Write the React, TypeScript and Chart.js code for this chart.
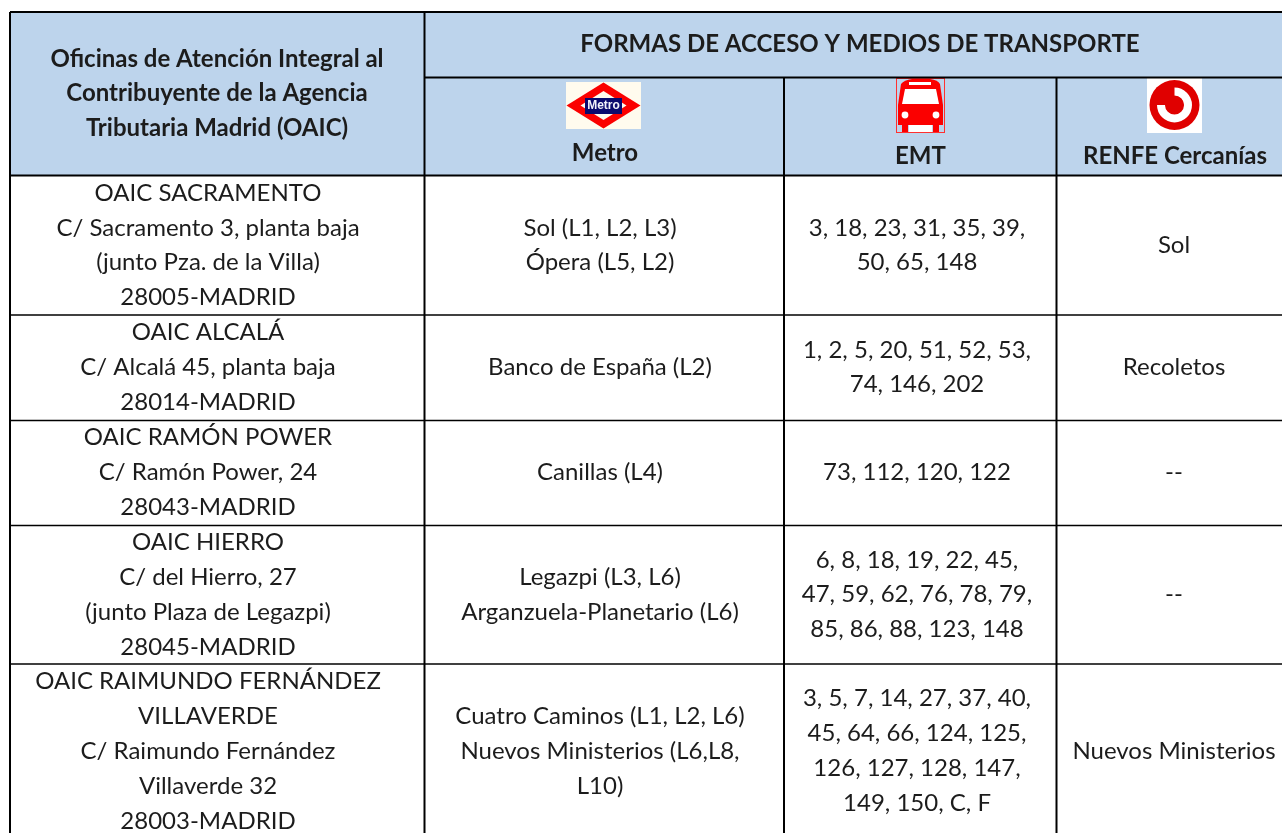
import React, { useEffect, useRef } from "react";
import { Chart, registerables } from "chart.js";

Chart.register(...registerables);

// ---- table content ----
const officeHeader = ["Oficinas de Atención Integral al", "Contribuyente de la Agencia", "Tributaria Madrid (OAIC)"];
const groupHeader = "FORMAS DE ACCESO Y MEDIOS DE TRANSPORTE";
const columnHeaders = ["Metro", "EMT", "RENFE Cercanías"];

const offices = [
  ["OAIC SACRAMENTO", "C/ Sacramento 3, planta baja", "(junto Pza. de la Villa)", "28005-MADRID"],
  ["OAIC ALCALÁ", "C/ Alcalá 45, planta baja", "28014-MADRID"],
  ["OAIC RAMÓN POWER", "C/ Ramón Power, 24", "28043-MADRID"],
  ["OAIC HIERRO", "C/ del Hierro, 27", "(junto Plaza de Legazpi)", "28045-MADRID"],
  ["OAIC RAIMUNDO FERNÁNDEZ", "VILLAVERDE", "C/ Raimundo Fernández", "Villaverde 32", "28003-MADRID"],
];
const metro = [
  ["Sol (L1, L2, L3)", "Ópera (L5, L2)"],
  ["Banco de España (L2)"],
  ["Canillas (L4)"],
  ["Legazpi (L3, L6)", "Arganzuela-Planetario (L6)"],
  ["Cuatro Caminos (L1, L2, L6)", "Nuevos Ministerios (L6,L8,", "L10)"],
];
const emt = [
  ["3, 18, 23, 31, 35, 39,", "50, 65, 148"],
  ["1, 2, 5, 20, 51, 52, 53,", "74, 146, 202"],
  ["73, 112, 120, 122"],
  ["6, 8, 18, 19, 22, 45,", "47, 59, 62, 76, 78, 79,", "85, 86, 88, 123, 148"],
  ["3, 5, 7, 14, 27, 37, 40,", "45, 64, 66, 124, 125,", "126, 127, 128, 147,", "149, 150, C, F"],
];
const renfe = [["Sol"], ["Recoletos"], ["--"], ["--"], ["Nuevos Ministerios"]];

// ---- table geometry, in scale units ----
const W = 1282;
const H = 833;
const left = 10;
const top = 12;
const colEdges = [424.5, 784, 1056.5];
const headY = [77.5, 175.5];
const rowEdges = [175.5, 315, 420.5, 525.5, 664, 833];
const colCenters = [208, 600, 917, 1174];
const LH = 34.9;
const BLUE = "#bdd4ec";
const INK = "#1c1c1c";
const FONT = "Lato, 'Open Sans', sans-serif";

type Cell = { x: number; y: number; lines: string[] };
const rowCenters = rowEdges.slice(0, -1).map((e, i) => (e + rowEdges[i + 1]) / 2);
const rowOffsets = [0, -0.5, -1, 0, 2.5];
const cellsOf = (col: string[][], c: number): Cell[] =>
  col.map((lines, r) => ({ x: colCenters[c], y: rowCenters[r] + rowOffsets[r], lines }));

const tablePlugin = {
  id: "tablePlugin",
  beforeDatasetsDraw(chart: any) {
    const { ctx, scales } = chart;
    const px = (v: number) => scales.x.getPixelForValue(v);
    const py = (v: number) => scales.y.getPixelForValue(v);
    ctx.save();
    // header fills
    ctx.fillStyle = BLUE;
    ctx.fillRect(px(left), py(top), px(W) - px(left), py(headY[1]) - py(top));
    // logos
    drawMetroLogo(ctx, px, py);
    drawBusLogo(ctx, px, py);
    drawRenfeLogo(ctx, px, py);
    // rules
    ctx.strokeStyle = "#000";
    const line = (x1: number, y1: number, x2: number, y2: number, w: number) => {
      ctx.lineWidth = w;
      ctx.beginPath();
      ctx.moveTo(px(x1), py(y1));
      ctx.lineTo(px(x2), py(y2));
      ctx.stroke();
    };
    line(left, top, W, top, 2);
    line(left, top, left, H, 2);
    line(colEdges[0], top, colEdges[0], H, 2);
    line(colEdges[1], headY[0], colEdges[1], H, 2);
    line(colEdges[2], headY[0], colEdges[2], H, 2);
    line(colEdges[0], headY[0], W, headY[0], 2);
    line(left, headY[1], W, headY[1], 2);
    rowEdges.slice(1, -1).forEach((y) => line(left, y, W, y, 1.5));
    ctx.restore();
  },
  afterDatasetsDraw(chart: any) {
    const { ctx } = chart;
    ctx.save();
    ctx.textAlign = "center";
    ctx.textBaseline = "middle";
    chart.data.datasets.forEach((ds: any, i: number) => {
      const meta = chart.getDatasetMeta(i);
      ctx.font = ds.textFont;
      ctx.fillStyle = INK;
      meta.data.forEach((pt: any, j: number) => {
        const raw = ds.data[j] as Cell;
        const n = raw.lines.length;
        raw.lines.forEach((t, k) => {
          ctx.fillText(t, pt.x, pt.y + (k - (n - 1) / 2) * ds.lineStep);
        });
      });
    });
    ctx.restore();
  },
};

function drawMetroLogo(ctx: CanvasRenderingContext2D, px: (v: number) => number, py: (v: number) => number) {
  const cx = 603.5;
  const cy = 105.5;
  ctx.fillStyle = "#fffbee";
  ctx.fillRect(px(566), py(82), 75, 47);
  const diamond = (hw: number, hh: number, color: string) => {
    ctx.fillStyle = color;
    ctx.beginPath();
    ctx.moveTo(px(cx - hw), py(cy));
    ctx.lineTo(px(cx), py(cy - hh));
    ctx.lineTo(px(cx + hw), py(cy));
    ctx.lineTo(px(cx), py(cy + hh));
    ctx.closePath();
    ctx.fill();
  };
  diamond(37, 23, "#fb0000");
  diamond(23, 14.5, "#fffbee");
  ctx.fillStyle = "#0a0a6e";
  ctx.fillRect(px(585), py(98), 37, 16);
  ctx.fillStyle = "#f3f3fb";
  ctx.font = "bold 12px 'Liberation Sans', sans-serif";
  ctx.textAlign = "center";
  ctx.textBaseline = "middle";
  ctx.fillText("Metro", px(cx), py(106));
}

function drawBusLogo(ctx: CanvasRenderingContext2D, px: (v: number) => number, py: (v: number) => number) {
  const R = "#fb0000";
  ctx.strokeStyle = "#ff3030";
  ctx.lineWidth = 1;
  ctx.strokeRect(px(896.5), py(78.5), 48, 54);
  ctx.fillStyle = R;
  // body
  ctx.beginPath();
  ctx.moveTo(px(901), py(84));
  ctx.quadraticCurveTo(px(904), py(80), px(912), py(79));
  ctx.lineTo(px(930), py(79));
  ctx.quadraticCurveTo(px(938), py(80), px(940), py(84));
  ctx.lineTo(px(943), py(105));
  ctx.lineTo(px(943), py(125));
  ctx.lineTo(px(898), py(125));
  ctx.lineTo(px(898), py(105));
  ctx.closePath();
  ctx.fill();
  // wheels
  ctx.fillRect(px(902), py(124), 6, 8);
  ctx.fillRect(px(933), py(124), 6, 8);
  // window and roof sign
  ctx.fillStyle = "#ffffff";
  ctx.fillRect(px(909), py(82), 22, 3);
  ctx.beginPath();
  ctx.moveTo(px(905), py(89));
  ctx.lineTo(px(936), py(89));
  ctx.lineTo(px(939), py(104));
  ctx.lineTo(px(902), py(104));
  ctx.closePath();
  ctx.fill();
  // lights
  ctx.beginPath();
  ctx.arc(px(905), py(115), 3.4, 0, Math.PI * 2);
  ctx.arc(px(936), py(115), 3.4, 0, Math.PI * 2);
  ctx.fill();
  ctx.fillRect(px(909), py(125), 23, 7);
}

function drawRenfeLogo(ctx: CanvasRenderingContext2D, px: (v: number) => number, py: (v: number) => number) {
  const cx = 1174.5;
  const cy = 105;
  ctx.fillStyle = "#ffffff";
  ctx.fillRect(px(1147), py(78), 55, 55);
  ctx.fillStyle = "#e00000";
  ctx.beginPath();
  ctx.arc(px(cx), py(cy), 25, 0, Math.PI * 2);
  ctx.fill();
  // white open ring
  ctx.strokeStyle = "#ffffff";
  ctx.lineWidth = 8;
  ctx.beginPath();
  ctx.arc(px(cx), py(cy), 13.5, -Math.PI / 2, Math.PI, false);
  ctx.stroke();
  // red centre dot
  ctx.fillStyle = "#e00000";
  ctx.beginPath();
  ctx.arc(px(cx), py(cy), 9, 0, Math.PI * 2);
  ctx.fill();
}

export default function App() {
  const ref = useRef<HTMLCanvasElement>(null);
  useEffect(() => {
    document.body.style.margin = "0";
    const bodyFont = `24px ${FONT}`;
    const headFont = `bold 24px ${FONT}`;
    const chart = new Chart(ref.current!, {
      type: "scatter",
      data: {
        datasets: [
          { label: "Oficina", data: cellsOf(offices, 0) as any, pointRadius: 0, textFont: bodyFont, lineStep: LH },
          { label: "Metro", data: cellsOf(metro, 1) as any, pointRadius: 0, textFont: bodyFont, lineStep: LH },
          { label: "EMT", data: cellsOf(emt, 2) as any, pointRadius: 0, textFont: bodyFont, lineStep: LH },
          { label: "RENFE", data: cellsOf(renfe, 3) as any, pointRadius: 0, textFont: bodyFont, lineStep: LH },
          {
            label: "Cabecera oficinas",
            data: [{ x: 217, y: 93.5, lines: officeHeader }] as any,
            pointRadius: 0, textFont: headFont, lineStep: 34.7,
          },
          {
            label: "Cabecera grupo",
            data: [{ x: 860, y: 44.5, lines: [groupHeader] }] as any,
            pointRadius: 0, textFont: headFont, lineStep: LH,
          },
          {
            label: "Cabecera columnas",
            data: [
              { x: 605, y: 153.5, lines: [columnHeaders[0]] },
              { x: 920.5, y: 156.5, lines: [columnHeaders[1]] },
              { x: 1175, y: 156.5, lines: [columnHeaders[2]] },
            ] as any,
            pointRadius: 0, textFont: headFont, lineStep: LH,
          },
        ] as any,
      },
      options: {
        animation: false,
        responsive: false,
        layout: { padding: 0 },
        plugins: { legend: { display: false }, tooltip: { enabled: false }, title: { display: false } },
        scales: {
          x: { type: "linear", min: 0, max: W, display: false },
          y: { type: "linear", min: 0, max: H, reverse: true, display: false },
        },
      },
      plugins: [tablePlugin as any],
    });
    return () => chart.destroy();
  }, []);
  return <canvas ref={ref} width={W} height={H} style={{ display: "block" }} />;
}
